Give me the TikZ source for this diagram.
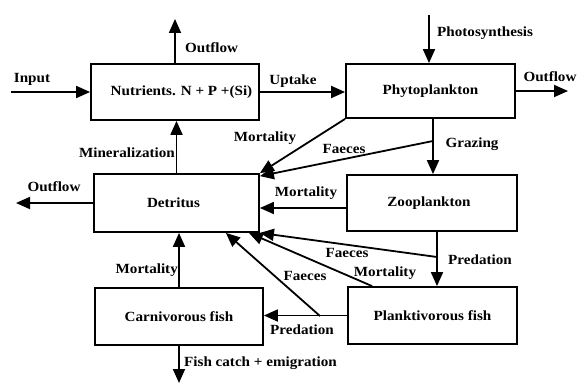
\documentclass[tikz,border=0pt]{standalone}
\usepackage{fontspec}
\setmainfont{Liberation Serif}[FakeStretch=1.08]
\usetikzlibrary{arrows.meta}
\begin{document}
\begin{tikzpicture}[x=1pt,y=-1pt,
  box/.style={draw,line width=1.8pt,inner sep=0pt,font=\fontsize{14}{16}\selectfont\bfseries},
  arr/.style={line width=1.8pt,-{Triangle[length=14pt,width=12pt]}},
  lbl/.style={inner sep=0pt,font=\fontsize{14}{16}\selectfont\bfseries}]
\useasboundingbox[fill=white] (0,0) rectangle (580,385);
% boxes
\node[box,minimum width=168pt,minimum height=56pt] (nut) at (175,92) {\hspace*{13pt}Nutrients. N + P +(Si)};
\node[box,minimum width=169pt,minimum height=54pt] (phy) at (430.5,91) {Phytoplankton};
\node[box,minimum width=165pt,minimum height=58pt] (det) at (176.5,203) {Detritus\hspace*{6pt}};
\node[box,minimum width=170pt,minimum height=56pt] (zoo) at (432,203) {Zooplankton\hspace*{6pt}};
\node[box,minimum width=169pt,minimum height=57pt] (pla) at (432.5,315.5) {Planktivorous fish};
\node[box,minimum width=168pt,minimum height=57pt] (car) at (179,316.5) {Carnivorous fish};
% free ends and branch points
\coordinate (in) at (11,92);
\coordinate (o1) at (175,19);
\coordinate (ps) at (429,15);
\coordinate (o2) at (568,91);
\coordinate (o3) at (16,203);
\coordinate (fc) at (179,383);
\coordinate (g) at (433,141);
\coordinate (p1) at (437,257);
\coordinate (f2) at (320,316);
% connectors
\draw[arr] (in) -- (nut.west);
\draw[arr] (nut.north) -- (o1);
\draw[arr] (det.north) -- (det.north |- nut.south);
\draw[arr] (nut.east) -- (nut.east -| phy.west);
\draw[arr] (ps) -- (ps |- phy.north);
\draw[arr] (phy.east) -- (o2);
\draw[arr] (phy.south -| g) -- (zoo.north -| g);
\draw[arr] (g) -- ([yshift=-3pt]det.north east);
\draw[arr] (phy.south west) -- (det.north east);
\draw[arr] ([yshift=-5pt]zoo.west) -- ([yshift=-5pt]det.east);
\draw[arr] (zoo.south -| p1) -- (pla.north -| p1);
\draw[arr] (p1) -- (det.south east);
\draw[arr] ([xshift=25pt]pla.north west) -- ([xshift=-11pt]det.south east);
\draw[arr] (pla.west) -- (pla.west -| car.east);
\draw[arr] (f2) -- ([xshift=-34pt]det.south east);
\draw[arr] (car.north) -- (car.north |- det.south);
\draw[arr] (car.south) -- (fc);
\draw[arr] (det.west) -- (o3);
% labels
\node[lbl] (l1) at (32,79) {Input};
\node[lbl,anchor=west] (l2) at (185,48) {Outflow};
\node[lbl,anchor=east] (l3) at (175,153) {Mineralization};
\node[lbl] (l4) at (293,81) {Uptake};
\node[lbl,anchor=west] (l5) at (437,33) {Photosynthesis};
\node[lbl] (l6) at (550,77) {Outflow};
\node[lbl] (l7) at (265,138) {Mortality};
\node[lbl] (l8) at (344,149) {Faeces};
\node[lbl] (l9) at (472,144) {Grazing};
\node[lbl] (l10) at (306,193) {Mortality};
\node[lbl] (l11) at (347,253) {Faeces};
\node[lbl] (l12) at (480,260) {Predation};
\node[lbl] (l13) at (385,273) {Mortality};
\node[lbl] (l14) at (305,276) {Faeces};
\node[lbl] (l15) at (302,330) {Predation};
\node[lbl,anchor=east] (l16) at (178,270) {Mortality};
\node[lbl,anchor=west] (l17) at (184,363) {Fish catch + emigration};
\node[lbl] (l18) at (54,187) {Outflow};
\end{tikzpicture}
\end{document}
